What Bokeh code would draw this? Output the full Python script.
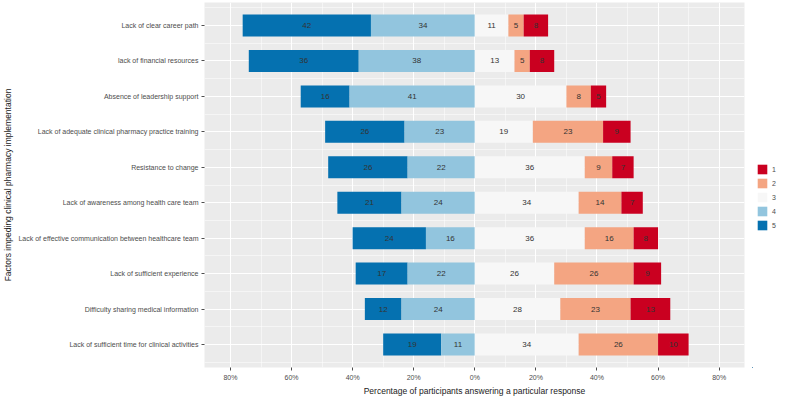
import numpy as np
from bokeh.plotting import figure
from bokeh.layouts import row
from bokeh.models import ColumnDataSource, Range1d, FixedTicker, Legend, LegendItem
from bokeh.embed import file_html
from bokeh.resources import INLINE

# ---------------- data (top row first) ----------------
factors = [
    "Lack of clear career path",
    "lack of financial resources",
    "Absence of leadership support",
    "Lack of adequate clinical pharmacy practice training",
    "Resistance to change",
    "Lack of awareness among health care team",
    "Lack of effective communication between healthcare team",
    "Lack of sufficient experience",
    "Difficulty sharing medical information",
    "Lack of sufficient time for clinical activities",
]
resp5 = [42, 36, 16, 26, 26, 21, 24, 17, 12, 19]
resp4 = [34, 38, 41, 23, 22, 24, 16, 22, 24, 11]
resp3 = [11, 13, 30, 19, 36, 34, 36, 26, 28, 34]
resp2 = [5, 5, 8, 23, 9, 14, 16, 26, 23, 26]
resp1 = [8, 8, 5, 9, 7, 7, 8, 9, 13, 10]

x_ticks = [-80, -60, -40, -20, 0, 20, 40, 60, 80]
x_tick_labels = ["80%", "60%", "40%", "20%", "0%", "20%", "40%", "60%", "80%"]
legend_levels = ["1", "2", "3", "4", "5"]
level_colors = {"1": "#CA0020", "2": "#F4A582", "3": "#F7F7F7", "4": "#92C5DE", "5": "#0571B0"}

FONT = "Liberation Sans"

n = len(factors)
ypos = np.arange(n, 0, -1).astype(float)  # top row -> n
r5, r4, r3, r2, r1 = (np.array(a, dtype=float) for a in (resp5, resp4, resp3, resp2, resp1))

segments = {
    "5": (-(r4 + r5), -r4, r5),
    "4": (-r4, np.zeros(n), r4),
    "3": (np.zeros(n), r3, r3),
    "2": (r3, r3 + r2, r2),
    "1": (r3 + r2, r3 + r2 + r1, r1),
}

H = 398
p = figure(width=752, height=H, output_backend="svg", toolbar_location=None,
           x_range=Range1d(-88.5, 88.3), y_range=Range1d(0.35, n + 0.65))
p.min_border_left = 195
p.min_border_right = 8
p.min_border_top = 2
p.min_border_bottom = 18
p.background_fill_color = "#EBEBEB"
p.border_fill_color = "white"
p.outline_line_color = None

main_renderers = {}
for lvl in ["5", "4", "3", "2", "1"]:
    left, right, vals = segments[lvl]
    src = ColumnDataSource(dict(y=ypos, left=left, right=right,
                                mid=(left + right) / 2, txt=[str(int(v)) for v in vals]))
    main_renderers[lvl] = p.hbar(y="y", left="left", right="right", height=0.62, source=src,
                                 fill_color=level_colors[lvl], line_color=None)
    p.text(x="mid", y="y", text="txt", source=src, text_align="center",
           text_baseline="middle", text_font_size="8px", text_color="#333333",
           text_font={"value": FONT})

# axes
p.xaxis.ticker = FixedTicker(ticks=x_ticks, minor_ticks=[-70, -50, -30, -10, 10, 30, 50, 70])
p.xaxis.major_label_overrides = {t: l for t, l in zip(x_ticks, x_tick_labels)}
p.yaxis.ticker = FixedTicker(ticks=list(ypos), minor_ticks=list(np.arange(0.5, n + 1, 1.0)))
p.yaxis.major_label_overrides = {float(y): f for y, f in zip(ypos, factors)}
p.xaxis.axis_label = "Percentage of participants answering a particular response"
p.yaxis.axis_label = "Factors impeding clinical pharmacy implementation"
for ax in (p.xaxis, p.yaxis):
    ax.axis_line_color = None
    ax.major_tick_line_color = "#4d4d4d"
    ax.major_tick_out = 3
    ax.major_tick_in = 0
    ax.minor_tick_line_color = None
    ax.major_label_text_font_size = "7px"
    ax.major_label_text_color = "#4d4d4d"
    ax.major_label_text_font = FONT
    ax.axis_label_text_font = FONT
    ax.axis_label_text_font_size = "8.5px"
    ax.axis_label_text_font_style = "normal"
    ax.axis_label_text_color = "#222222"
    ax.major_label_standoff = 2
    ax.axis_label_standoff = 2

# grid
for g in (p.xgrid, p.ygrid):
    g.grid_line_color = "white"
    g.grid_line_width = 1
    g.minor_grid_line_color = "white"
    g.minor_grid_line_width = 0.5

# ---------------- legend in a narrow side figure ----------------
# the legend swatches reuse the main chart's data sources (drawn out of view here)
lg = figure(width=25, height=H, output_backend="svg", toolbar_location=None,
            x_axis_type=None, y_axis_type=None, x_range=Range1d(5000, 5001),
            y_range=Range1d(5000, 5001), min_border=0)
lg.outline_line_color = None
lg.background_fill_color = "white"
lg.border_fill_color = "white"
items = []
for lvl in legend_levels:
    r = lg.hbar(y="y", left="left", right="right", height=0.62,
                source=main_renderers[lvl].data_source,
                fill_color=level_colors[lvl], line_color=None)
    items.append(LegendItem(label=lvl, renderers=[r]))
legend = Legend(items=items, location=(4, 136), orientation="vertical",
                glyph_width=12, glyph_height=12, label_height=12, spacing=2,
                padding=0, margin=0, label_standoff=4,
                background_fill_alpha=0, border_line_color=None,
                label_text_font_size="7px", label_text_color="#4d4d4d",
                label_text_font=FONT)
lg.add_layout(legend, "center")

layout = row(p, lg)
open("out.html", "w").write(file_html(layout, INLINE))
